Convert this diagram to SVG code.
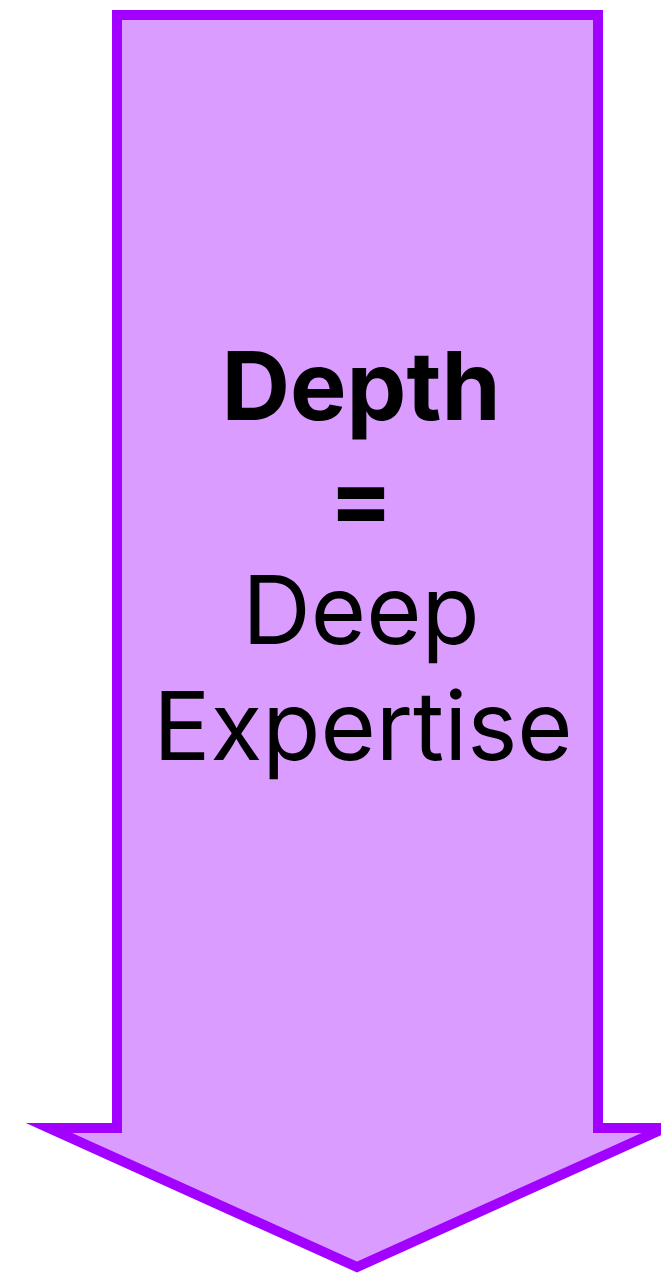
<svg xmlns="http://www.w3.org/2000/svg" width="661" height="1276" viewBox="0 0 661 1276">
<style>
.arrow{fill:#DA9CFF;stroke:#A200FF;stroke-width:10;stroke-miterlimit:10}
.t{font-family:Inter,"Liberation Sans",sans-serif;font-size:95px;fill:#000;text-anchor:middle}
.b{font-weight:bold}
</style>
<g id="depth-arrow">
<path class="arrow" d="M117,15 L598,15 L598,1128 L665,1128 L357,1267 L49,1128 L117,1128 Z"/>
<text class="t b" x="361" y="420">Depth</text>
<text class="t b" x="361" y="532">=</text>
<text class="t" x="361" y="644">Deep</text>
<text class="t" x="363" y="760">Expertise</text>
</g>
</svg>
